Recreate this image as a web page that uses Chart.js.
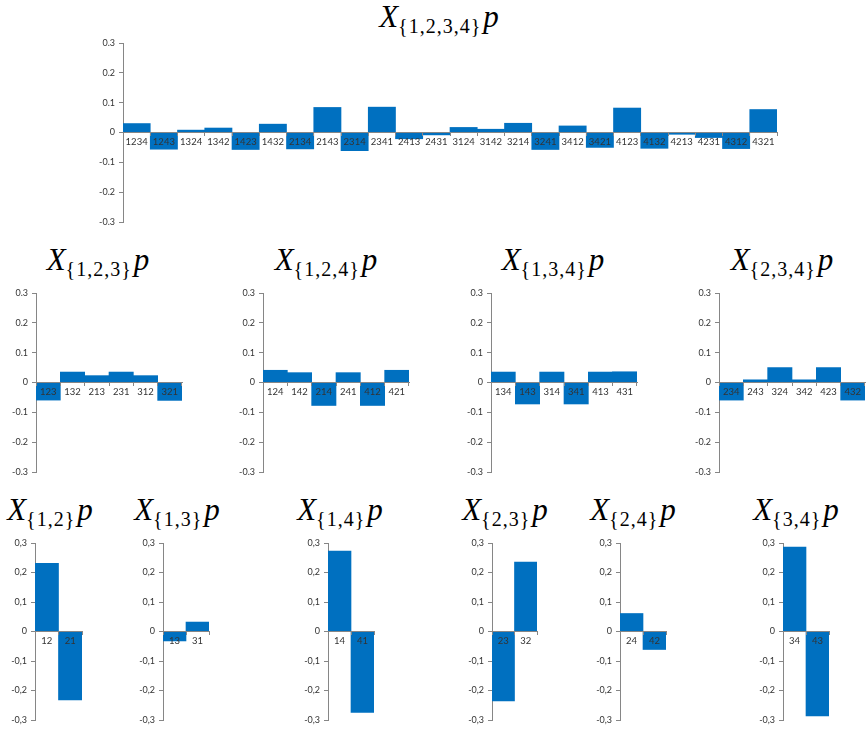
<!DOCTYPE html>
<html><head><meta charset="utf-8">
<script src="https://cdn.jsdelivr.net/npm/chart.js@4.4.1/dist/chart.umd.min.js"></script>
<style>
body{margin:0;background:#fff;width:867px;height:731px;position:relative;overflow:hidden}
canvas{position:absolute}
.t{position:absolute;font-family:"Liberation Serif","Times New Roman","DejaVu Serif",serif;white-space:nowrap;transform:translateX(-50%);color:#000;line-height:1;font-weight:normal}
.t i{font-family:"Liberation Serif","Times New Roman","DejaVu Serif",serif;font-style:italic;font-size:31px}
.t span{font-family:"Liberation Serif","Times New Roman","DejaVu Serif",serif;font-size:20px;position:relative;top:6px;margin:0 2px 0 0;letter-spacing:1px}
</style></head><body>
<div class="t" style="left:439px;top:1px"><i>X</i><span>{1,2,3,4}</span><i>p</i></div>
<div class="t" style="left:98px;top:244px"><i>X</i><span>{1,2,3}</span><i>p</i></div>
<div class="t" style="left:326px;top:244px"><i>X</i><span>{1,2,4}</span><i>p</i></div>
<div class="t" style="left:553px;top:244px"><i>X</i><span>{1,3,4}</span><i>p</i></div>
<div class="t" style="left:782px;top:244px"><i>X</i><span>{2,3,4}</span><i>p</i></div>
<div class="t" style="left:50px;top:494px"><i>X</i><span>{1,2}</span><i>p</i></div>
<div class="t" style="left:177px;top:494px"><i>X</i><span>{1,3}</span><i>p</i></div>
<div class="t" style="left:340px;top:494px"><i>X</i><span>{1,4}</span><i>p</i></div>
<div class="t" style="left:505px;top:494px"><i>X</i><span>{2,3}</span><i>p</i></div>
<div class="t" style="left:633px;top:494px"><i>X</i><span>{2,4}</span><i>p</i></div>
<div class="t" style="left:796px;top:494px"><i>X</i><span>{3,4}</span><i>p</i></div>
<script>
// ---- data ----
const cat1234 = ['1234','1243','1324','1342','1423','1432','2134','2143','2314','2341','2413','2431',
                 '3124','3142','3214','3241','3412','3421','4123','4132','4213','4231','4312','4321'];
const val1234 = [0.030,-0.056,0.008,0.015,-0.057,0.028,-0.055,0.084,-0.061,0.085,-0.021,-0.008,
                 0.017,0.011,0.031,-0.057,0.022,-0.050,0.082,-0.053,-0.006,-0.017,-0.054,0.077];
const cat123 = ['123','132','213','231','312','321'];
const val123 = [-0.059,0.035,0.023,0.035,0.023,-0.060];
const cat124 = ['124','142','214','241','412','421'];
const val124 = [0.041,0.033,-0.077,0.033,-0.077,0.041];
const cat134 = ['134','143','314','341','413','431'];
const val134 = [0.035,-0.072,0.035,-0.072,0.035,0.036];
const cat234 = ['234','243','324','342','423','432'];
const val234 = [-0.059,0.009,0.050,0.009,0.050,-0.059];
const cat12 = ['12','21']; const val12 = [0.231,-0.232];
const cat13 = ['13','31']; const val13 = [-0.032,0.032];
const cat14 = ['14','41']; const val14 = [0.273,-0.274];
const cat23 = ['23','32']; const val23 = [-0.235,0.235];
const cat24 = ['24','42']; const val24 = [0.061,-0.061];
const cat34 = ['34','43']; const val34 = [0.286,-0.286];
const yTicksDot   = ['-0.3','-0.2','-0.1','0','0.1','0.2','0.3'];
const yTicksComma = ['-0,3','-0,2','-0,1','0','0,1','0,2','0,3'];

// ---- drawing ----
const AX = '#868686', TXT = '#333333', BAR = '#0070C0';
Chart.defaults.font.family = 'Lato, "Open Sans", sans-serif';
Chart.defaults.font.size = 9;
Chart.defaults.color = TXT;

function make(box, labels, values, yLabels) {
  const padL = 40, padT = 10, padB = 10, padR = 6;
  const left = Math.round(box.ax) - padL;
  const top = Math.round(box.top) - padT;
  const w = Math.round(box.right) - left + padR;
  const h = Math.round(box.bottom) - top + padB;
  const c = document.createElement('canvas');
  c.width = w; c.height = h;
  c.style.left = left + 'px'; c.style.top = top + 'px';
  c.style.width = w + 'px'; c.style.height = h + 'px';
  document.body.appendChild(c);
  new Chart(c, {
    type: 'bar',
    data: { labels, datasets: [{ data: values, backgroundColor: BAR, borderWidth: 0,
      barPercentage: 1, categoryPercentage: 1 }] },
    options: {
      responsive: false, animation: false, devicePixelRatio: 1,
      layout: { padding: { left: 0, top: padT, bottom: padB, right: padR } },
      plugins: { legend: { display: false }, tooltip: { enabled: false }, title: { display: false } },
      scales: {
        x: {
          position: { y: 0 }, offset: true,
          grid: { drawOnChartArea: false, drawTicks: true, tickLength: 3, color: AX, offset: true, z: 1 },
          border: { color: AX, width: 1, z: 2 },
          ticks: { padding: 1, color: TXT, maxRotation: 0, autoSkip: false, font: { size: 9.5 }, z: 3 }
        },
        y: {
          min: -0.3, max: 0.3,
          afterFit: s => { s.width = padL; },
          grid: { drawOnChartArea: false, drawTicks: true, tickLength: 4, color: AX },
          border: { color: AX, width: 1 },
          ticks: { stepSize: 0.1, padding: 4, color: TXT, font: { size: 9 },
            callback: v => yLabels[Math.round(v * 10) + 3] }
        }
      }
    }
  });
}

make({ax:123, top:42.7, bottom:222, right:777}, cat1234, val1234, yTicksDot);
make({ax:35.7, top:292.7, bottom:472, right:181.7}, cat123, val123, yTicksDot);
make({ax:263.3, top:292.7, bottom:472, right:409.3}, cat124, val124, yTicksDot);
make({ax:491.3, top:292.7, bottom:472, right:637}, cat134, val134, yTicksDot);
make({ax:719.3, top:292.7, bottom:472, right:864.7}, cat234, val234, yTicksDot);
make({ax:35.3, top:543, bottom:720.3, right:81.7}, cat12, val12, yTicksComma);
make({ax:163.3, top:543, bottom:720.3, right:209.3}, cat13, val13, yTicksComma);
make({ax:327.7, top:543, bottom:720.3, right:373.7}, cat14, val14, yTicksComma);
make({ax:491.7, top:543, bottom:720.3, right:537.3}, cat23, val23, yTicksComma);
make({ax:619.7, top:543, bottom:720.3, right:665.7}, cat24, val24, yTicksComma);
make({ax:783.3, top:543, bottom:720.3, right:829.3}, cat34, val34, yTicksComma);
</script>
</body></html>
